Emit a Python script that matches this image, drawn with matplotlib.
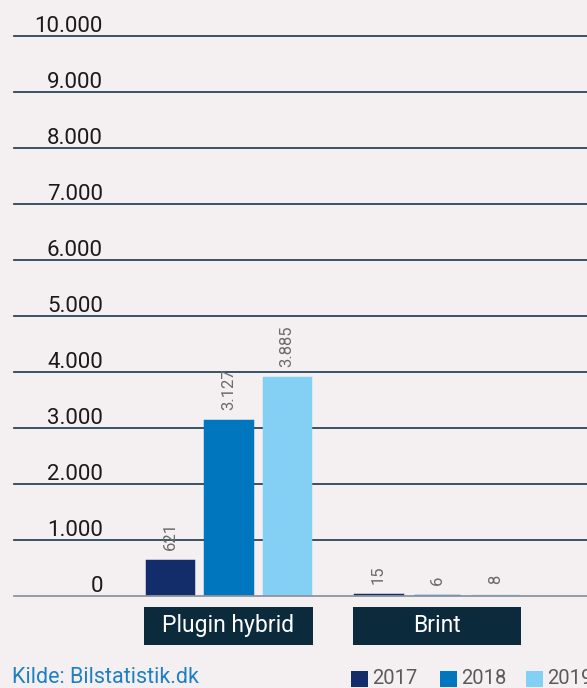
import matplotlib.pyplot as plt
from matplotlib.patches import Rectangle

# data
categories = ['Plugin hybrid', 'Brint']
years = ['2017', '2018', '2019']
values_2017 = [621, 15]
values_2018 = [3127, 6]
values_2019 = [3885, 8]
yticks = [0, 1000, 2000, 3000, 4000, 5000, 6000, 7000, 8000, 9000, 10000]

colors = ['#132c6a', '#0076bf', '#84cff4']
bg = '#f4f0f1'
W, H = 587, 688

plt.rcParams['font.family'] = ['Roboto', 'DejaVu Sans']

fig = plt.figure(figsize=(W / 100, H / 100), dpi=100, facecolor=bg)
# axes: x from px 14 to 587, y zero at px 596, 10000 at px 36
ax = fig.add_axes([14 / W, (H - 596) / H, (W - 14) / W, 560 / H])
ax.set_facecolor(bg)

group_step = 208.5
offset = 58.5 / group_step
width = 46.5 / group_step
xs = list(range(len(categories)))

for i, vals in enumerate([values_2017, values_2018, values_2019]):
    pos = [x + (i - 1) * offset for x in xs]
    ax.bar(pos, vals, width=width, color=colors[i], edgecolor=colors[i],
           linewidth=2.5, zorder=3)
    for p, v in zip(pos, vals):
        ax.annotate(f'{v:,}'.replace(',', '.'), xy=(p, v), xytext=(0, 8),
                    textcoords='offset points', rotation=90, ha='center',
                    va='bottom', fontsize=12, color='#6a6a6a', zorder=4)

ax.set_xlim(-214.5 / group_step, 358.5 / group_step)
ax.set_ylim(0, 10000)

# gridlines with labels sitting just above them
for t in yticks:
    c = '#8c959c' if t == 0 else '#2c4457'
    ax.axhline(t, color=c, linewidth=1.3, zorder=2 if t else 5, clip_on=False)
    ax.annotate(f'{t:,}'.replace(',', '.'), xy=((103 - 14) / (W - 14), t),
                xycoords=ax.get_yaxis_transform(), xytext=(0, -0.5),
                textcoords='offset points', ha='right', va='bottom',
                fontsize=16, color='#1a1a1a')

for s in ax.spines.values():
    s.set_visible(False)
ax.set_xticks([])
ax.set_yticks([])

# category boxes under the axis
trans = ax.get_xaxis_transform()
for x, name in zip(xs, categories):
    ax.add_patch(Rectangle((x - 0.405, -0.0875), 0.81, 0.068, transform=trans,
                           facecolor='#0b2a3b', edgecolor='none', clip_on=False))
    ax.text(x, -0.0535, name, transform=trans, ha='center', va='center',
            fontsize=16.5, color='white')

# source text
fig.text(12 / W, 0 / H, 'Kilde: Bilstatistik.dk', ha='left', va='bottom',
         fontsize=15.5, color='#1f7fc3')

# legend
for i, (yr, x0) in enumerate(zip(years, [351, 440, 526])):
    fig.patches.append(Rectangle((x0 / W, 1 / H), 17 / W, 16 / H,
                                 transform=fig.transFigure, facecolor=colors[i],
                                 edgecolor='none'))
    fig.text((x0 + 21) / W, 0 / H, yr, ha='left', va='bottom',
             fontsize=14.5, color='#5a5a5a')

fig.savefig('out.png', dpi=100, facecolor=bg)
